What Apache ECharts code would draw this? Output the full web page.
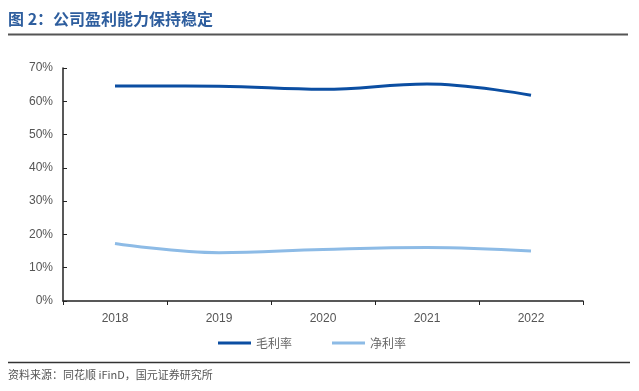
<!DOCTYPE html>
<html>
<head>
<meta charset="utf-8">
<script src="https://cdn.jsdelivr.net/npm/echarts@6/dist/echarts.min.js"></script>
<style>
html,body{margin:0;padding:0;background:#fff;}
#main{width:639px;height:391px;}
</style>
</head>
<body>
<div id="main"></div>
<script>
var years = ['2018', '2019', '2020', '2021', '2022'];
var grossMargin = [64.6, 64.5, 63.6, 65.2, 61.8];   //毛利率
var netMargin = [17.3, 14.5, 15.5, 16.1, 15.0];     //净利率
var yTicks = [0, 10, 20, 30, 40, 50, 60, 70];

var chart = echarts.init(document.getElementById('main'));
var cjk = '"Noto Sans CJK SC", sans-serif';
var option = {
	animation: false,
	backgroundColor: '#fff',
	grid: {
		left: 63,
		right: 56,
		top: 68,
		bottom: 90
	},
	legend: {
		left: 213,
		top: 332,
		itemGap: 40,
		itemWidth: 33,
		itemHeight: 3,
		icon: 'rect',
		textStyle: { fontFamily: cjk, fontSize: 12, color: '#666' },
		data: ['毛利率', '净利率']
	},
	xAxis: {
		type: 'category',
		data: years,
		axisLine: { lineStyle: { color: '#222', width: 1.5 } },
		axisTick: { show: true, length: 4, inside: false, lineStyle: { color: '#222' } },
		axisLabel: { color: '#555', fontSize: 12, fontFamily: 'Liberation Sans, Arial', margin: 12 }
	},
	yAxis: {
		type: 'value',
		min: yTicks[0],
		max: yTicks[yTicks.length - 1],
		interval: 10,
		splitLine: { show: false },
		axisLine: { show: true, lineStyle: { color: '#222', width: 1.5 } },
		axisTick: { show: true, inside: true, length: 4, lineStyle: { color: '#222' } },
		axisLabel: {
			color: '#555', fontSize: 12, fontFamily: 'Liberation Sans, Arial', margin: 10,
			formatter: function (v) { return v + '%'; }
		}
	},
	series: [{
		name: '毛利率',
		type: 'line',
		smooth: 0.4,
		symbol: 'none',
		data: grossMargin,
		itemStyle: { color: '#0B4EA2' },
		lineStyle: { color: '#0B4EA2', width: 3 }
	}, {
		name: '净利率',
		type: 'line',
		smooth: 0.4,
		symbol: 'none',
		data: netMargin,
		itemStyle: { color: '#8DBBE6' },
		lineStyle: { color: '#8DBBE6', width: 3 }
	}],
	graphic: [{
		type: 'text',
		left: 8,
		top: 11,
		style: {
			text: '图 2：公司盈利能力保持稳定',
			fill: '#2E5E9E',
			font: 'bold 16px "Noto Sans CJK SC", sans-serif'
		}
	}, {
		type: 'line',
		shape: { x1: 8, y1: 34.5, x2: 628, y2: 34.5 },
		style: { stroke: '#555', lineWidth: 2 }
	}, {
		type: 'line',
		shape: { x1: 8, y1: 362.5, x2: 630, y2: 362.5 },
		style: { stroke: '#333', lineWidth: 1.5 }
	}, {
		type: 'text',
		left: 8,
		top: 369,
		style: {
			text: '资料来源：同花顺 iFinD，国元证券研究所',
			fill: '#555',
			font: '11px "Noto Sans CJK SC", sans-serif'
		}
	}]
};
chart.setOption(option);
</script>
</body>
</html>
